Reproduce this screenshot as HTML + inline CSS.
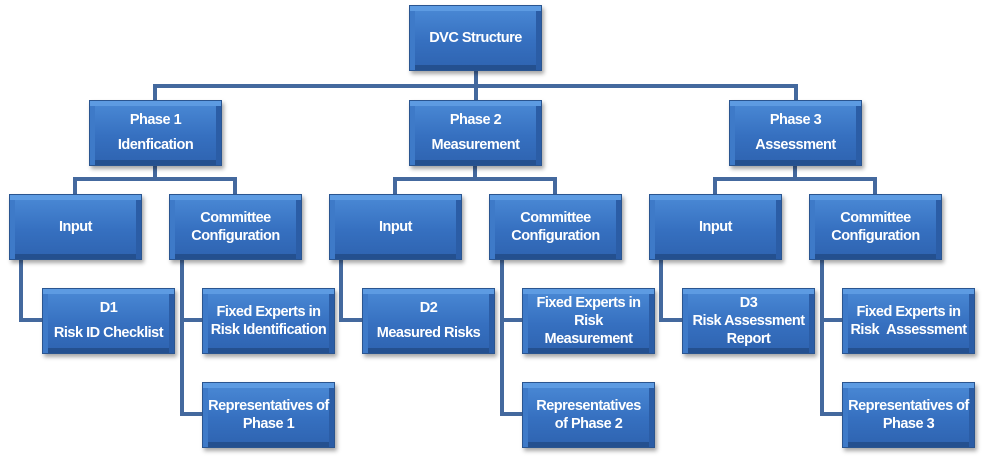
<!DOCTYPE html>
<html><head><style>
body{margin:0;width:998px;height:460px;background:#fff;position:relative;overflow:hidden;font-family:"Liberation Sans",sans-serif}
.b{position:absolute;width:133px;height:66px;box-sizing:border-box;background:linear-gradient(#4b8ad6,#3670c0 55%,#2e63b0);border:1px solid #2a5590;box-shadow:inset 0 5px 0 #5d9be2,inset 5px 0 0 #3e7ac8,inset -5px 0 0 #2b5da6,inset 0 -5px 0 #24508f,2px 3px 4px rgba(0,0,0,.35);color:#fff;font-weight:bold;font-size:14.5px;letter-spacing:-0.5px;display:flex;align-items:center;justify-content:center;text-align:center;line-height:18px}
.p{line-height:25px}
.l{position:absolute;background:#44699e}
</style></head><body>
<div class="l" style="left:474px;top:71px;width:4px;height:30px"></div>
<div class="l" style="left:153px;top:84px;width:645px;height:4px"></div>
<div class="l" style="left:153px;top:84px;width:4px;height:17px"></div>
<div class="l" style="left:794px;top:84px;width:4px;height:17px"></div>

<div class="b" style="left:409px;top:5px">DVC Structure</div>

<div id="g0"></div>
<script>
var phases=[["Phase 1<br>Idenfication","D1<br>Risk ID Checklist","Fixed Experts in<br>Risk Identification","Representatives of<br>Phase 1"],
["Phase 2<br>Measurement","D2<br>Measured Risks","Fixed Experts in<br>Risk<br>Measurement","Representatives<br>of Phase 2"],
["Phase 3<br>Assessment","D3<br>Risk Assessment<br>Report","Fixed Experts in<br>Risk &nbsp;Assessment","Representatives of<br>Phase 3"]];
var h="";
phases.forEach(function(p,i){var o=i*320;
function L(x,y,w,hh){h+='<div class="l" style="left:'+(x+o)+'px;top:'+y+'px;width:'+w+'px;height:'+hh+'px"></div>';}
function B(x,y,t,c){h+='<div class="b'+(c?' p':'')+'" style="left:'+(x+o)+'px;top:'+y+'px">'+t+'</div>';}
L(153,165,4,14);L(73,177,164,4);L(73,177,4,18);L(233,177,4,18);
L(19,258,4,64);L(19,318,25,4);
L(180,258,4,158);L(180,318,24,4);L(180,412,24,4);
B(89,100,p[0],1);B(9,194,"Input");B(169,194,"Committee<br>Configuration");
B(42,288,p[1],i<2);B(202,288,p[2]);B(202,382,p[3]);
});
document.getElementById("g0").outerHTML=h;
</script>
</body></html>
